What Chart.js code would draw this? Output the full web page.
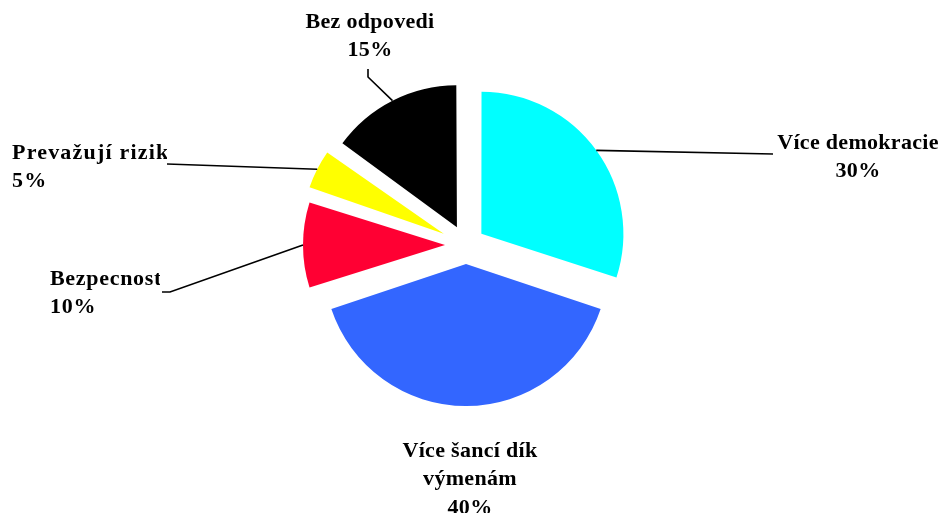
<!DOCTYPE html>
<html>
<head>
<meta charset="utf-8">
<script src="https://cdn.jsdelivr.net/npm/chart.js@4/dist/chart.umd.min.js"></script>
<style>
  html, body { margin: 0; padding: 0; background: #fff; }
  #wrap { position: relative; width: 940px; height: 513px; }
</style>
</head>
<body>
<div id="wrap"><canvas id="pieChart"></canvas></div>
<script>
// chart data
const categories = ['Více demokracie', 'Více šancí dík výmenám', 'Bezpecnost', 'Prevažují riziky', 'Bez odpovedi'];
const labelLines = [['Více demokracie'], ['Více šancí dík', 'výmenám'], ['Bezpecnost'], ['Prevažují riziky'], ['Bez odpovedi']];
const shares = [30, 40, 10, 5, 15];
const sliceColors = ['#00FFFF', '#3366FF', '#FF0033', '#FFFF00', '#000000'];

// label placement (pixels), leader bends, clip edges
const labelBoxes = [
    { x: 858, y: 143, align: 'center', spacing: 0.3, leader: [[773, 154]] },
    { x: 470, y: 451, align: 'center', spacing: 0.3, leader: null },
    { x: 50, y: 279, align: 'left', spacing: 0.7, clip: 160, leader: [[162, 292], [170, 292]] },
    { x: 12, y: 153, align: 'left', spacing: 1.2, clip: 167, leader: [[167, 164]] },
    { x: 370, y: 22, align: 'center', spacing: 0.3, leader: [[368, 69], [368, 77]] }
];

const PIE_RADIUS = 142;
const LINE_GAP = 28.5;
const FONT = 'bold 22px "Liberation Serif", "Times New Roman", serif';

// keep exploded slices at the same radius (chart.js grows narrow ones)
const evenRadius = {
    id: 'evenRadius',
    beforeDatasetsDraw(chart) {
        chart.getDatasetMeta(0).data.forEach(arc => {
            const off = (arc.options.offset || 0) / 4;
            const circ = arc.endAngle - arc.startAngle;
            const fix = 1 - Math.sin(Math.min(Math.PI, circ));
            arc.outerRadius = PIE_RADIUS - off * fix;
        });
    }
};

const callouts = {
    id: 'callouts',
    afterDatasetsDraw(chart) {
        const ctx = chart.ctx;
        const arcs = chart.getDatasetMeta(0).data;
        ctx.save();
        ctx.font = FONT;
        ctx.fillStyle = '#000';
        ctx.strokeStyle = '#000';
        ctx.lineWidth = 1.6;
        ctx.textBaseline = 'middle';

        arcs.forEach((arc, i) => {
            const box = labelBoxes[i];
            const mid = (arc.startAngle + arc.endAngle) / 2;
            const off = (arc.options.offset || 0) / 4;

            if (box.leader) {
                const ex = arc.x + Math.cos(mid) * (off + PIE_RADIUS);
                const ey = arc.y + Math.sin(mid) * (off + PIE_RADIUS);
                ctx.beginPath();
                ctx.moveTo(box.leader[0][0], box.leader[0][1]);
                box.leader.slice(1).forEach(p => ctx.lineTo(p[0], p[1]));
                ctx.lineTo(ex, ey);
                ctx.stroke();
            }

            const lines = labelLines[i].concat([shares[i] + '%']);
            ctx.save();
            ctx.letterSpacing = box.spacing + 'px';
            if (box.clip) {
                // the first line is cut off at the box edge, as in the source
                const split = box.y + LINE_GAP / 2;
                ctx.beginPath();
                ctx.rect(0, box.y - 30, box.clip, split - (box.y - 30));
                ctx.rect(0, split, 940, 200);
                ctx.clip();
            }
            ctx.textAlign = box.align;
            lines.forEach((t, j) => ctx.fillText(t, box.x, box.y + j * LINE_GAP));
            ctx.restore();
        });
        ctx.restore();
    }
};

new Chart(document.getElementById('pieChart'), {
    type: 'pie',
    data: {
        labels: categories,
        datasets: [{
            data: shares,
            backgroundColor: sliceColors,
            borderWidth: 0,
            offset: [76, 76, 84, 100, 80]
        }]
    },
    options: {
        responsive: true,
        maintainAspectRatio: false,
        animation: false,
        events: [],
        radius: PIE_RADIUS,
        layout: { padding: { left: 0, top: 0, right: 8, bottom: 23 } },
        plugins: {
            legend: { display: false },
            tooltip: { enabled: false }
        }
    },
    plugins: [evenRadius, callouts]
});
</script>
</body>
</html>
